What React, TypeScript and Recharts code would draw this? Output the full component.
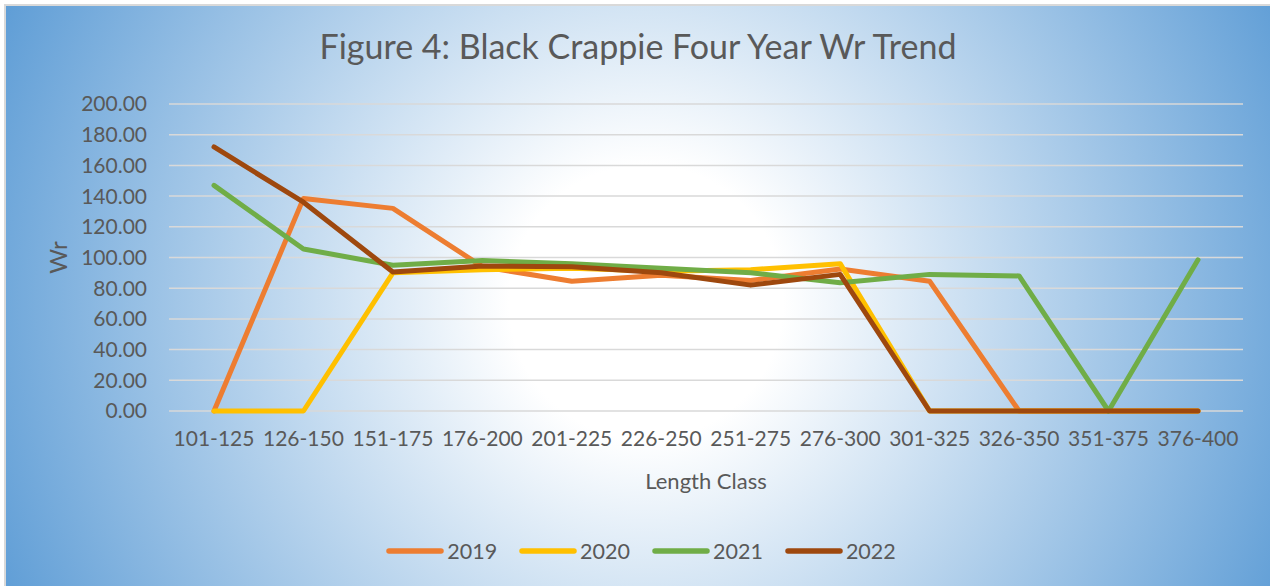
import { LineChart, Line, XAxis, YAxis, CartesianGrid, Legend } from "recharts";

const lengthClasses = [
  "101-125", "126-150", "151-175", "176-200", "201-225", "226-250",
  "251-275", "276-300", "301-325", "326-350", "351-375", "376-400",
];
const wr2019 = [0, 138.5, 132, 94, 84.5, 88.5, 85, 92.5, 84.5, 0, 0, 0];
const wr2020 = [0, 0, 90, 92, 93, 91, 92, 96, 0, 0, 0, 0];
const wr2021 = [147, 105.5, 95, 98, 96, 93, 90, 83.5, 89, 88, 0, 98.5];
const wr2022 = [172, 136, 90.5, 94.5, 94, 90, 82, 89, 0, 0, 0, 0];
const yTicks = [0, 20, 40, 60, 80, 100, 120, 140, 160, 180, 200];

const series = [
  { key: "2019", color: "#ed7d31" },
  { key: "2020", color: "#ffc000" },
  { key: "2021", color: "#70ad47" },
  { key: "2022", color: "#9e480e" },
];

const data = lengthClasses.map((name, i) => ({
  name,
  "2019": wr2019[i],
  "2020": wr2020[i],
  "2021": wr2021[i],
  "2022": wr2022[i],
}));

const FONT = "Lato, 'Open Sans', sans-serif";
const TEXT = "#595959";

// legend drawn as line swatches with round caps, like the Excel one
const renderLegend = () => (
  <div style={{ display: "flex", justifyContent: "center", gap: 22, fontFamily: FONT, fontSize: 21.5, color: TEXT }}>
    {series.map((s) => (
      <div key={s.key} style={{ display: "flex", alignItems: "center" }}>
        <svg width={58} height={10} style={{ marginRight: 3 }}>
          <line x1={3} y1={5} x2={55} y2={5} stroke={s.color} strokeWidth={5.5} strokeLinecap="round" />
        </svg>
        <span>{s.key}</span>
      </div>
    ))}
  </div>
);

export default function App() {
  return (
    <div style={{ position: "absolute", left: 0, top: 0, width: 1270, height: 586, overflow: "hidden", background: "#fff" }}>
      <div
        style={{
          position: "absolute",
          left: 4,
          top: 4,
          width: 1290,
          height: 600,
          border: "2px solid #d9d9d9",
          background: "radial-gradient(circle 720px at 640px 296px, #ffffff 0%, #ffffff 19%, #5b9bd5 100%)",
        }}
      />
      <div
        style={{
          position: "absolute",
          left: 0,
          top: 25,
          width: 1276,
          textAlign: "center",
          fontFamily: FONT,
          fontSize: 34,
          color: TEXT,
        }}
      >
        Figure 4: Black Crappie Four Year Wr Trend
      </div>
      <div style={{ position: "absolute", left: 0, top: 0 }}>
        <LineChart width={1270} height={586} data={data} margin={{ top: 104, right: 27, left: 39, bottom: 85 }}>
          <CartesianGrid horizontal vertical={false} stroke="#d9d9d9" strokeWidth={1.5} />
          <XAxis
            dataKey="name"
            axisLine={false}
            tickLine={false}
            height={90}
            padding={{ left: 45, right: 45 }}
            tickMargin={14}
            tick={{ fill: TEXT, fontSize: 21, fontFamily: FONT }}
            label={{ value: "Length Class", position: "insideBottom", offset: 12, fill: TEXT, fontSize: 22, fontFamily: FONT }}
          />
          <YAxis
            width={130}
            domain={[0, 200]}
            ticks={yTicks}
            axisLine={false}
            tickLine={false}
            tickMargin={16}
            tickFormatter={(v: number) => v.toFixed(2)}
            tick={{ fill: TEXT, fontSize: 21, fontFamily: FONT }}
            label={({ viewBox }: any) => {
              const cx = viewBox.x + 18;
              const cy = viewBox.y + viewBox.height / 2;
              return (
                <text
                  x={cx}
                  y={cy}
                  transform={`rotate(-90 ${cx} ${cy})`}
                  textAnchor="middle"
                  dominantBaseline="central"
                  fill={TEXT}
                  fontSize={24}
                  fontFamily={FONT}
                >
                  Wr
                </text>
              );
            }}
          />
          <Legend verticalAlign="middle" content={renderLegend} wrapperStyle={{ top: 538, left: 6, width: 1270 }} />
          {series.map((s) => (
            <Line
              key={s.key}
              type="linear"
              dataKey={s.key}
              stroke={s.color}
              strokeWidth={5}
              strokeLinejoin="round"
              strokeLinecap="round"
              dot={false}
              activeDot={false}
              isAnimationActive={false}
            />
          ))}
        </LineChart>
      </div>
    </div>
  );
}
